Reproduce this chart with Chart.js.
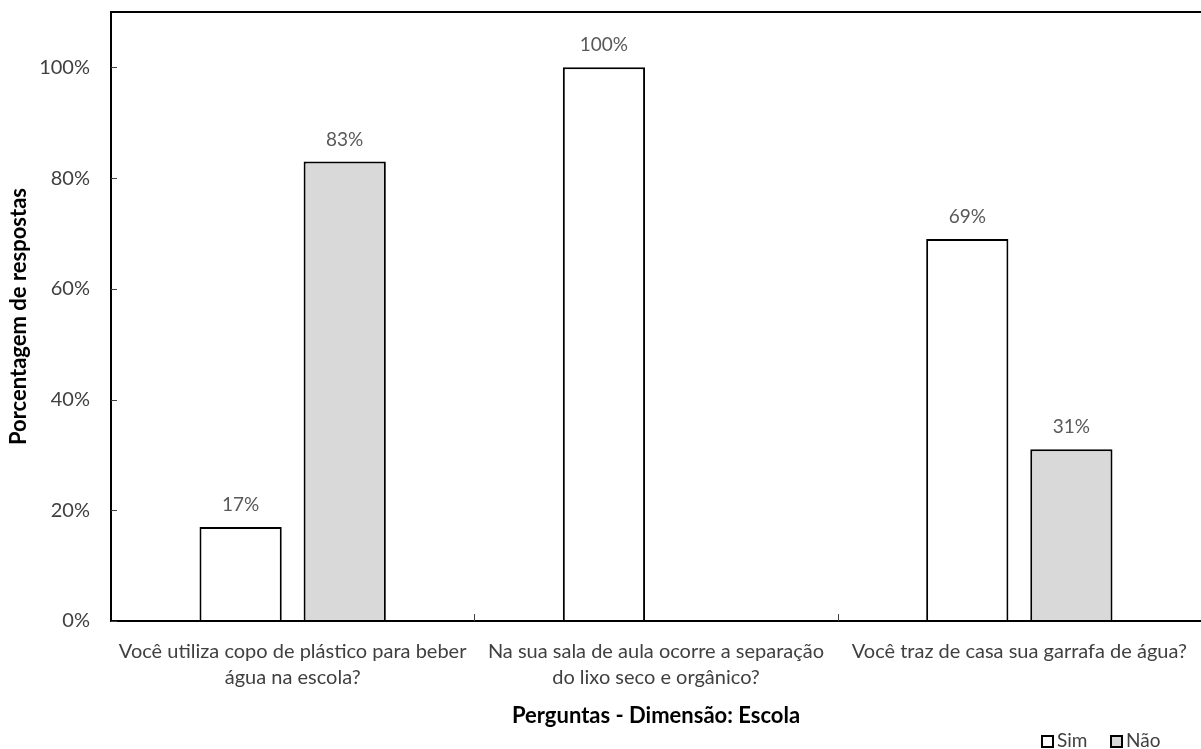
<!DOCTYPE html>
<html>
<head>
<meta charset="utf-8">
<script src="https://cdn.jsdelivr.net/npm/chart.js@4"></script>
<style>
  html, body { margin: 0; padding: 0; background: #ffffff; }
  #wrap { width: 1201px; height: 749px; position: relative; }
</style>
</head>
<body>
<div id="wrap"><canvas id="chart" width="1201" height="749"></canvas></div>
<script>
// Survey answers, "Escola" dimension
const categories = [
  ['Você utiliza copo de plástico para beber', 'água na escola?'],
  ['Na sua sala de aula ocorre a separação', 'do lixo seco e orgânico?'],
  ['Você traz de casa sua garrafa de água?']
];
const seriesNames = ['Sim', 'Não'];
const simValues = [17, 100, 69];
const naoValues = [83, 0, 31];
const yTicks = [0, 20, 40, 60, 80, 100];

const FONT = 'Lato, "Open Sans", "DejaVu Sans", sans-serif';
const TEXT = '#404040';

// Frame, inward tick marks, value labels and legend
const decorations = {
  id: 'decorations',
  afterDatasetsDraw(chart) {
    const ctx = chart.ctx;
    const a = chart.chartArea;
    const x = chart.scales.x, y = chart.scales.y;
    ctx.save();
    ctx.strokeStyle = '#000000';
    ctx.lineWidth = 2;
    ctx.beginPath();
    ctx.moveTo(a.left, a.bottom);
    ctx.lineTo(a.left, a.top);
    ctx.lineTo(a.right + 2, a.top);
    ctx.moveTo(a.left - 1, a.bottom);
    ctx.lineTo(a.right + 2, a.bottom);
    ctx.stroke();

    ctx.lineWidth = 1;
    ctx.strokeStyle = '#404040';
    ctx.beginPath();
    yTicks.forEach(v => {
      const py = Math.round(y.getPixelForValue(v)) + 0.5;
      ctx.moveTo(a.left, py);
      ctx.lineTo(a.left + 6, py);
    });
    for (let i = 1; i < categories.length; i++) {
      const px = Math.round((x.getPixelForValue(i - 1) + x.getPixelForValue(i)) / 2) + 0.5;
      ctx.moveTo(px, a.bottom);
      ctx.lineTo(px, a.bottom - 7);
    }
    ctx.stroke();

    // value labels above the bars
    ctx.fillStyle = '#595959';
    ctx.font = '19px ' + FONT;
    ctx.textAlign = 'center';
    ctx.textBaseline = 'middle';
    chart.data.datasets.forEach((ds, di) => {
      const meta = chart.getDatasetMeta(di);
      meta.data.forEach((bar, i) => {
        const v = ds.data[i];
        if (!v) return;
        ctx.fillText(v + '%', bar.x, bar.y - 22);
      });
    });

    // legend, bottom right
    const items = chart.data.datasets.map(ds => ({ text: ds.label, fill: ds.backgroundColor }));
    ctx.font = '19px ' + FONT;
    ctx.textAlign = 'left';
    ctx.textBaseline = 'middle';
    const ly = 741;
    const xs = [1042, 1111];
    items.forEach((it, i) => {
      const bx = xs[i];
      ctx.fillStyle = it.fill;
      ctx.fillRect(bx, ly - 5, 11, 11);
      ctx.strokeStyle = '#000000';
      ctx.lineWidth = 2;
      ctx.strokeRect(bx, ly - 5, 11, 11);
      ctx.fillStyle = TEXT;
      ctx.fillText(it.text, bx + 15, ly);
    });
    ctx.restore();
  }
};

new Chart(document.getElementById('chart'), {
  type: 'bar',
  data: {
    labels: categories,
    datasets: [
      { label: seriesNames[0], data: simValues, backgroundColor: '#ffffff', borderColor: '#000000', borderWidth: 2 },
      { label: seriesNames[1], data: naoValues, backgroundColor: '#d9d9d9', borderColor: '#000000', borderWidth: 2 }
    ]
  },
  options: {
    responsive: false,
    animation: false,
    layout: { padding: { top: 12, right: 0, left: 0, bottom: 0 } },
    categoryPercentage: 0.573,
    barPercentage: 0.79,
    plugins: {
      legend: { display: false },
      tooltip: { enabled: false }
    },
    scales: {
      x: {
        grid: { display: false, drawTicks: false },
        border: { display: false },
        ticks: { color: TEXT, font: { family: FONT, size: 20, lineHeight: 1.3 }, padding: 18, maxRotation: 0, autoSkip: false },
        title: { display: true, text: 'Perguntas - Dimensão: Escola', color: '#000000',
                 font: { family: FONT, size: 22, weight: 'bold' }, padding: { top: 0, bottom: 20 } },
        afterFit(scale) {
          scale.height = 128;
          scale.paddingLeft = 0;
          scale.paddingRight = 0;
        }
      },
      y: {
        min: 0,
        max: 110,
        grid: { display: false, drawTicks: false },
        border: { display: false },
        ticks: { stepSize: 20, color: TEXT, font: { family: FONT, size: 20 }, padding: 21,
                 callback: v => v + '%' },
        afterBuildTicks(scale) { scale.ticks = yTicks.map(v => ({ value: v })); },
        title: { display: true, text: 'Porcentagem de respostas', color: '#000000',
                 font: { family: FONT, size: 22, weight: 'bold' }, padding: { top: 6, bottom: 0 } },
        afterFit(scale) {
          scale.width = 111;
          scale.paddingTop = 0;
          scale.paddingBottom = 0;
        }
      }
    }
  },
  plugins: [decorations]
});
</script>
</body>
</html>
